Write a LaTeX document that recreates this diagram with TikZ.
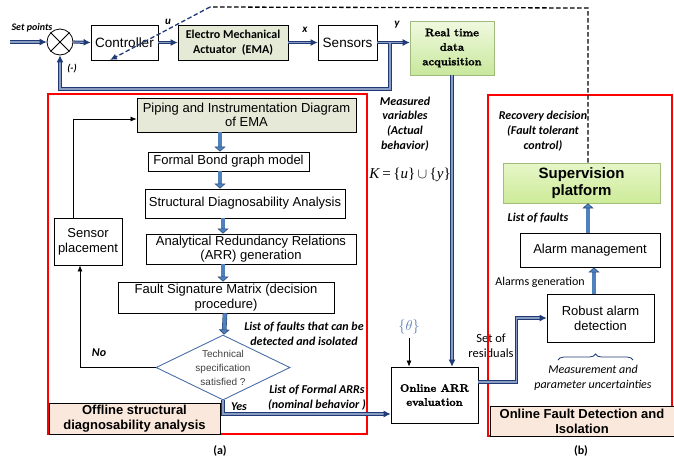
\documentclass[tikz,border=0pt]{standalone}
\usepackage{fontspec}
\newfontfamily\arial{Liberation Sans}
\newfontfamily\calib{Carlito}
\newfontfamily\tnrfont{Liberation Serif}
\newfontfamily\lmheavy[FakeBold=1.6]{lmroman10-bold.otf}
\usetikzlibrary{arrows.meta,shapes.geometric,decorations.pathreplacing,calc}
\definecolor{navy}{HTML}{1F3A75}
\definecolor{navylight}{HTML}{8A9CC2}
\definecolor{steel}{HTML}{4F81BD}
\definecolor{steeldark}{HTML}{2B4C80}
\definecolor{emafill}{HTML}{E4EAD6}
\definecolor{pidfill}{HTML}{E6E9D8}
\definecolor{rttop}{HTML}{F0F9E0}
\definecolor{rtbot}{HTML}{C8E89C}
\definecolor{suptop}{HTML}{E6F6C8}
\definecolor{supbot}{HTML}{CDEB98}
\definecolor{peach}{HTML}{FBE8DC}
\definecolor{diablue}{HTML}{4A6FA5}
\definecolor{thetacol}{HTML}{5A7AB0}
\begin{document}
\begin{tikzpicture}[x=1pt,y=-1pt,
  box/.style={draw=black, line width=0.8pt, align=center, inner sep=1pt,
    font=\arial\fontsize{13}{15}\selectfont},
  sig/.style={draw=navy, line width=1pt, double=navylight, double distance=1.1pt,
    -{Latex[length=7pt,width=7pt]}},
  fat/.style={draw=steeldark, line width=0.6pt, double=steel, double distance=3.4pt,
    -{Triangle[length=5pt,width=11pt,fill=steel]}},
  thinarrow/.style={draw=black, line width=0.7pt, -{Latex[length=6pt,width=5pt]}},
  redbox/.style={draw=red, line width=1.3pt},
  labelbox/.style={draw=black, line width=0.8pt, fill=peach, align=center, inner sep=1pt,
    font=\arial\bfseries\fontsize{13}{15}\selectfont},
  itlab/.style={font=\calib\bfseries\itshape\fontsize{12}{15}\selectfont, align=center, inner sep=0pt},
  plainlab/.style={font=\calib\fontsize{12}{15}\selectfont, align=center, inner sep=0pt},
  varlab/.style={font=\calib\bfseries\itshape\fontsize{11}{12}\selectfont, inner sep=0pt},
  dashline/.style={dashed, dash pattern=on 4.5pt off 2.5pt, line width=1.3pt}
]
\useasboundingbox (0,0) rectangle (674,459);

% ---------- top control loop ----------
\node[draw=black, line width=0.8pt, circle, minimum size=26pt, inner sep=0pt] (sum) at (60,42) {};
\draw[line width=0.8pt] (sum.north west) -- (sum.south east) (sum.north east) -- (sum.south west);
\node[box, minimum width=67pt, minimum height=35pt, font=\arial\fontsize{13.5}{15}\selectfont] (ctrl) at (124.5,42.5) {Controller};
\node[box, fill=emafill, minimum width=110pt, minimum height=35pt,
  font=\calib\bfseries\fontsize{12}{15}\selectfont] (ema) at (233,42.5) {Electro Mechanical\\Actuator~ (EMA)};
\node[box, minimum width=59pt, minimum height=35pt, font=\arial\fontsize{13.5}{15}\selectfont] (sens) at (347.5,42.5) {Sensors};
\node[draw=rtbot!80!black, line width=0.6pt, top color=rttop, bottom color=rtbot, minimum width=84pt, minimum height=54pt,
  align=center, inner sep=1pt, font=\lmheavy\fontsize{11}{14.5}\selectfont] (rt) at (452,48) {Real time\\data\\acquisition};

\coordinate (in) at (10,42);
\coordinate (br) at (390,42.5);
\coordinate (fbl) at (60,89);
\draw[sig] (in) -- (sum.west);
\draw[sig] (sum.east) -- (ctrl.west);
\draw[sig] (ctrl.east) -- (ema.west);
\draw[sig] (ema.east) -- (sens.west);
\draw[sig] (sens.east) -- (sens.east -| rt.west);
\draw[sig] (br) |- (fbl) -- (sum.south);
\node[varlab] (ulab) at (168,22) {u};
\node[varlab] (xlab) at (305,30) {x};
\node[varlab] (ylab) at (397,25) {y};
\node[itlab, font=\calib\bfseries\itshape\fontsize{10}{12}\selectfont] (setp) at (32,28) {Set points};
\node[itlab, font=\calib\bfseries\itshape\fontsize{10}{12}\selectfont] (minus) at (72,69) {(-)};

% dashed recovery line
\coordinate (d1) at (588,8);
\coordinate (d2) at (210,7);
\coordinate (dend) at (110,60);

% ---------- (a) offline ----------
\draw[redbox] (48,94) rectangle (367,434);
\node[box, fill=pidfill, minimum width=219pt, minimum height=34pt, font=\arial\fontsize{13}{14.5}\selectfont] (pid) at (246.5,115) {Piping and Instrumentation Diagram\\of EMA};
\node[box, minimum width=161pt, minimum height=19pt] (bond) at (228.5,161.5) {Formal Bond graph model};
\node[box, minimum width=200pt, minimum height=29pt] (sda) at (245,203.5) {Structural Diagnosability Analysis};
\node[box, minimum width=210pt, minimum height=30pt, font=\arial\fontsize{13}{14.5}\selectfont] (arrg) at (251,249) {Analytical Redundancy Relations\\(ARR) generation};
\node[box, minimum width=68pt, minimum height=47pt, font=\arial\fontsize{13}{15}\selectfont] (sp) at (88,241.5) {Sensor\\placement};
\node[box, minimum width=216pt, minimum height=31pt, font=\arial\fontsize{13}{14.5}\selectfont] (fsm) at (226,297.5) {Fault Signature Matrix (decision\\procedure)};
\node[draw=diablue, line width=0.9pt, diamond, minimum width=134pt, minimum height=65pt, inner sep=0pt, aspect=2,
  align=center, text=black!75, font=\arial\fontsize{10}{14}\selectfont] (dia) at (223,367.5) {Technical\\specification\\satisfied ?};
\node[labelbox, minimum width=171pt, minimum height=31pt] (off) at (134.5,418.5) {Offline structural\\diagnosability analysis};

\draw[fat] ([xshift=-26.5pt]pid.south) -- ([xshift=-8.5pt]bond.north);
\draw[fat] ([xshift=-8.5pt]bond.south) -- ([xshift=-25pt]sda.north);
\draw[fat] ([xshift=-22pt]sda.south) -- ([xshift=-28pt]arrg.north);
\draw[fat] ([xshift=-28pt]arrg.south) -- ([xshift=-3pt]fsm.north);
\draw[fat] ([xshift=-1pt]fsm.south) -- ([xshift=1pt]dia.north);

\draw[thinarrow] ([xshift=-15pt]sp.north) |- ([yshift=-4pt]pid.west);
\draw[thinarrow] (dia.west) -| ([xshift=-8pt]sp.south);
\node[itlab] (no) at (99,353) {No};
\node[itlab] (lf1) at (304,333.5) {List of faults that can be\\detected and isolated};
\node[itlab] (lf2) at (317,398) {List of Formal ARRs\\(nominal behavior )};
\node[itlab] (yes) at (239,407) {Yes};
\node[font=\calib\bfseries\fontsize{12}{14}\selectfont] (la) at (220,451) {(a)};

% ---------- middle ----------
\node[itlab, font=\calib\bfseries\itshape\fontsize{12}{14.8}\selectfont] (meas) at (405,124) {Measured\\variables\\(Actual\\behavior)};
\node[font=\tnrfont\fontsize{15}{16}\selectfont, inner sep=0pt] (kform) at (410,175) {\textit{K}\,=\,\{\textit{u}\}$\,\cup\,$\{\textit{y}\}};
\node[box, minimum width=87pt, minimum height=56pt, font=\lmheavy\fontsize{11}{14}\selectfont] (oarr) at (434.5,395) {Online ARR\\evaluation};
\node[text=thetacol, font=\fontsize{14}{15}\selectfont] (theta) at (409,327) {$\{\theta\}$};
\draw[thinarrow] (theta.south) -- (theta.south |- oarr.north);
\draw[sig] (rt.south) -- (rt.south |- oarr.north);
\draw[sig] (dia.south) |- ([yshift=-19pt]oarr.west);
\node[plainlab, font=\calib\fontsize{12.5}{15}\selectfont] (res) at (491,345.5) {Set of\\residuals};

% ---------- (b) online ----------
\draw[redbox] (488,95) rectangle (672,436);
\node[itlab] (rec) at (543,131) {Recovery decision\\(Fault tolerant\\control)};
\node[draw=supbot!80!black, line width=0.6pt, top color=suptop, bottom color=supbot, minimum width=157pt, minimum height=40pt,
  align=center, inner sep=1pt, font=\arial\bfseries\fontsize{15}{17}\selectfont] (sup) at (581.5,183) {Supervision\\platform};
\node[box, minimum width=140pt, minimum height=34pt] (alm) at (590,250) {Alarm management};
\node[box, minimum width=107pt, minimum height=48pt, font=\arial\fontsize{13}{15}\selectfont] (rob) at (600.5,318) {Robust alarm\\detection};
\node[itlab] (lof) at (538,218) {List of faults};
\node[plainlab] (ag) at (540,282) {Alarms generation};
\draw[fat] ([xshift=-2pt]alm.north) -- ([xshift=6.5pt]sup.south);
\draw[fat] ([xshift=-6.5pt]rob.north) -- ([xshift=4pt]alm.south);
\draw[sig] ([yshift=13pt]oarr.east) -- ++(38,0) |- (rob.west);
\coordinate (brl) at (558,360);
\coordinate (brr) at (633,360);
\draw[navy, line width=0.8pt, decorate, decoration={brace, amplitude=6pt}] (brl) -- (brr);
\node[font=\calib\itshape\fontsize{12}{15}\selectfont, align=center, inner sep=0pt] (unc) at (593,377.5) {Measurement and\\parameter uncertainties};
\node[labelbox, minimum width=184pt, minimum height=30pt] (onl) at (582,421) {Online Fault Detection and\\Isolation};
\node[font=\calib\bfseries\fontsize{12}{14}\selectfont] (lb) at (581,451) {(b)};

\draw[dashline] ([xshift=6.5pt]sup.north) -- (d1) -- (d2);
\draw[dashline, navy, -{Latex[length=7pt,width=6pt]}] (d2) -- (dend);
\end{tikzpicture}
\end{document}
